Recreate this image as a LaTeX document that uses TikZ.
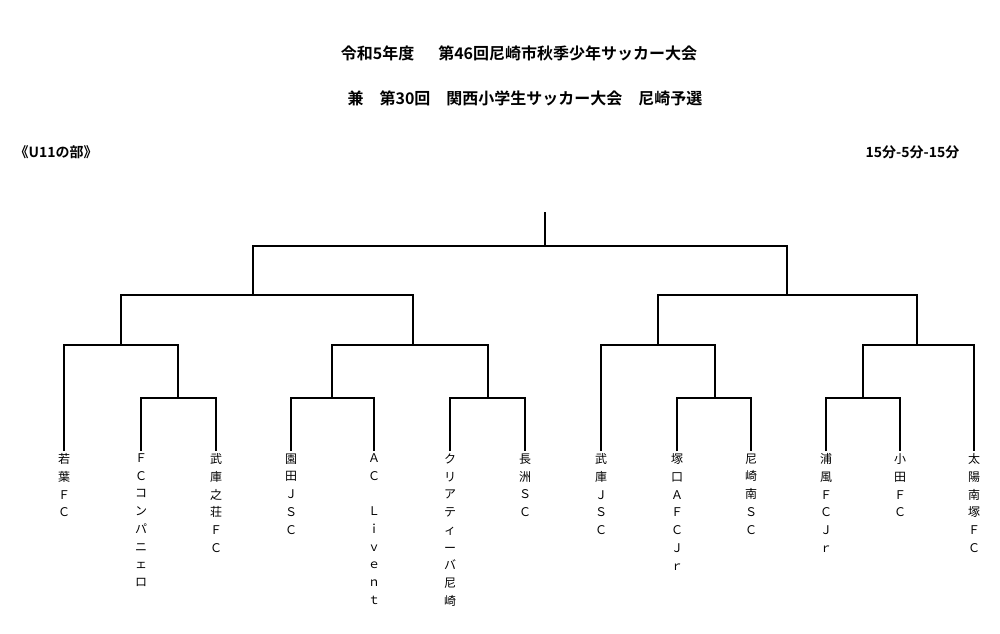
\documentclass[tikz,border=0pt]{standalone}
\usepackage{fontspec}
\setmainfont{Noto Sans CJK JP}[BoldFont={Noto Sans CJK JP Bold}]

\begin{document}
\begin{tikzpicture}[x=0.75pt, y=-0.75pt, line width=1pt,
  team/.style={anchor=north, inner sep=0pt, outer sep=2pt, align=center, font=\fontsize{9}{13.3}\selectfont},
  title/.style={inner sep=0pt, font=\fontsize{12}{14}\selectfont\bfseries},
  note/.style={inner sep=0pt, font=\fontsize{10.5}{12}\selectfont\bfseries}]

\useasboundingbox (0,0) rectangle (1000,633);

% Titles
\node[title] (title1) at (519,53) {令和5年度\hspace{1.5em}第46回尼崎市秋季少年サッカー大会};
\node[title] (title2) at (525,98) {兼　第30回　関西小学生サッカー大会　尼崎予選};
\node[note, anchor=west] (division) at (14,152) {《U11の部》};
\node[note, anchor=east] (time) at (960,152) {15分-5分-15分};

% Teams
\node[team] (t1) at (64,451) {若\\葉\\Ｆ\\Ｃ};
\node[team] (t2) at (141,451) {Ｆ\\Ｃ\\コ\\ン\\パ\\ニ\\ェ\\ロ};
\node[team] (t3) at (216,451) {武\\庫\\之\\荘\\Ｆ\\Ｃ};
\node[team] (t4) at (291,451) {園\\田\\Ｊ\\Ｓ\\Ｃ};
\node[team] (t5) at (374,451) {Ａ\\Ｃ\\\strut\\Ｌ\\ｉ\\ｖ\\ｅ\\ｎ\\ｔ};
\node[team] (t6) at (450,451) {ク\\リ\\ア\\テ\\ィ\\ー\\バ\\尼\\崎};
\node[team] (t7) at (525,451) {長\\洲\\Ｓ\\Ｃ};
\node[team] (t8) at (601,451) {武\\庫\\Ｊ\\Ｓ\\Ｃ};
\node[team] (t9) at (677,451) {塚\\口\\Ａ\\Ｆ\\Ｃ\\Ｊ\\ｒ};
\node[team] (t10) at (751,451) {尼\\崎\\南\\Ｓ\\Ｃ};
\node[team] (t11) at (826,451) {浦\\風\\Ｆ\\Ｃ\\Ｊ\\ｒ};
\node[team] (t12) at (900,451) {小\\田\\Ｆ\\Ｃ};
\node[team] (t13) at (974,451) {太\\陽\\南\\塚\\Ｆ\\Ｃ};

% Define the coordinates for the matches
\coordinate (a1) at (178,398);
\coordinate (a2) at (332,398);
\coordinate (a3) at (488,398);
\coordinate (a4) at (715,398);
\coordinate (a5) at (863,398);

\coordinate (b1) at (121,345);
\coordinate (b2) at (413,345);
\coordinate (b3) at (658,345);
\coordinate (b4) at (917,345);

\coordinate (c1) at (253,295);
\coordinate (c2) at (787,295);

\coordinate (final) at (545,246);
\coordinate (top) at (545,212);

% Draw the bracket
\draw (t2.north) |- (a1) -| (t3.north);
\draw (t4.north) |- (a2) -| (t5.north);
\draw (t6.north) |- (a3) -| (t7.north);
\draw (t9.north) |- (a4) -| (t10.north);
\draw (t11.north) |- (a5) -| (t12.north);

\draw (t1.north) |- (b1) -| (a1);
\draw (a2) |- (b2) -| (a3);
\draw (t8.north) |- (b3) -| (a4);
\draw (a5) |- (b4) -| (t13.north);

\draw (b1) |- (c1) -| (b2);
\draw (b3) |- (c2) -| (b4);

\draw (c1) |- (final) -| (c2);
\draw (final) -- (top);

\end{tikzpicture}
\end{document}
